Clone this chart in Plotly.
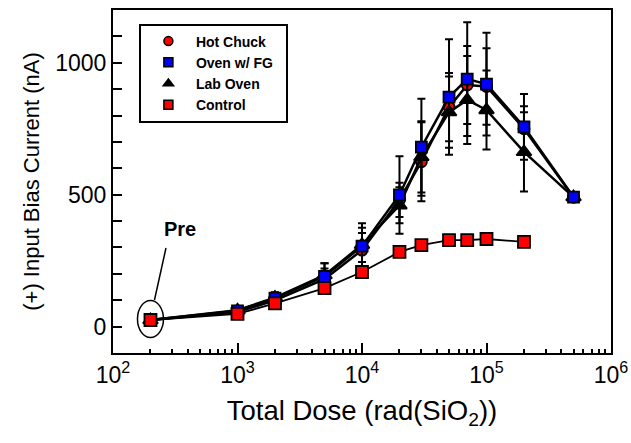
import math
import plotly.graph_objects as go

# ---------------- data ----------------
dose = [200, 1000, 2000, 5000, 10000, 20000, 30000, 50000, 70000, 100000, 200000, 500000]

hot_chuck = [25, 55, 100, 180, 290, 480, 625, 832, 916, 910, 750, 490]
hot_chuck_err = [5, 12, 18, 40, 65, 65, 150, 129, 148, 145, 85, 10]

oven_fg = [25, 60, 108, 190, 305, 499, 680, 870, 938, 919, 757, 491]
oven_fg_err = [5, 15, 20, 50, 87, 147, 184, 219, 216, 195, 125, 10]

lab_oven = [25, 62, 110, 195, 310, 460, 643, 813, 859, 821, 662, 491]
lab_oven_err = [5, 15, 20, 45, 65, 68, 135, 135, 167, 150, 150, 10]

control_dose = [200, 1000, 2000, 5000, 10000, 20000, 30000, 50000, 70000, 100000, 200000]
control = [25, 48, 88, 146, 207, 283, 309, 328, 328, 332, 321]

x_tick_vals = [100, 1000, 10000, 100000, 1000000]
x_tick_text = ["10<sup>2</sup>", "10<sup>3</sup>", "10<sup>4</sup>", "10<sup>5</sup>", "10<sup>6</sup>"]
x_minor_vals = [m * 10 ** e for e in range(2, 6) for m in range(2, 10)]
y_tick_vals = [0, 500, 1000]
y_minor_vals = [v for v in range(0, 1101, 100) if v not in y_tick_vals]

legend_names = ["Hot Chuck", "Oven w/ FG", "Lab Oven", "Control"]

FONT = "Liberation Sans, Arial, Helvetica, sans-serif"

fig = go.Figure()


def series(x, y, err, name, symbol, color, size, lw):
    fig.add_trace(go.Scatter(
        x=x, y=y, mode="lines+markers", name=name, showlegend=False,
        line=dict(color="black", width=lw),
        marker=dict(symbol=symbol, color=color, size=size,
                    line=dict(color="black", width=1.8)),
        error_y=dict(type="data", array=err if err is not None else [0] * len(y),
                     visible=err is not None,
                     color="black", thickness=2, width=4),
    ))


series(dose, hot_chuck, hot_chuck_err, "Hot Chuck", "circle", "#ff0000", 11, 2.5)
series(dose, lab_oven, lab_oven_err, "Lab Oven", "triangle-up", "black", 13, 2.5)
series(dose, oven_fg, oven_fg_err, "Oven w/ FG", "square", "#0000ff", 11, 2.5)
series(control_dose, control, None, "Control", "square", "#ff0000", 12, 1.8)

# legend-only entries (markers only, like the reference)
legend_styles = [("circle", "#ff0000"), ("square", "#0000ff"),
                 ("triangle-up", "black"), ("square", "#ff0000")]
for rank, (name, (symbol, color)) in enumerate(zip(legend_names, legend_styles), 1):
    label = name + ("&nbsp;&nbsp;" if name == "Oven w/ FG" else "")
    fig.add_trace(go.Scatter(
        x=[None], y=[None], mode="markers", name=label, legendrank=rank,
        marker=dict(symbol=symbol, color=color, size=9,
                    line=dict(color="black", width=1.5)),
    ))

# plot-area size in pixels (for callout geometry)
PLOT_W = 631 - 113 - 20
PLOT_H = 443 - 10 - 90
PX_PER_DECADE = PLOT_W / 4.0
PX_PER_NA = PLOT_H / 1300.0


def dx(px):
    return dose[0] * 10 ** (px / PX_PER_DECADE)


def dy(px):
    return control[0] + px / PX_PER_NA


fig.update_layout(
    width=631, height=443,
    margin=dict(l=113, r=20, t=10, b=90),
    plot_bgcolor="white", paper_bgcolor="white",
    font=dict(family=FONT, color="black"),
    xaxis=dict(
        type="log", range=[2, 6], automargin=False,
        tickmode="array", tickvals=x_tick_vals, ticktext=x_tick_text,
        ticks="inside", ticklen=10, tickwidth=2, tickcolor="black",
        minor=dict(tickmode="array", tickvals=x_minor_vals, ticks="inside",
                   ticklen=4, tickwidth=2, tickcolor="black", showgrid=False),
        showline=True, linecolor="black", linewidth=2, mirror=True,
        showgrid=False, zeroline=False,
        tickfont=dict(size=23, family=FONT),
        title=dict(text="Total Dose (rad(SiO<sub>2</sub>))",
                   font=dict(size=27.5, family=FONT), standoff=14),
    ),
    yaxis=dict(
        range=[-100, 1200], automargin=False,
        tickmode="array", tickvals=y_tick_vals,
        ticks="inside", ticklen=9, tickwidth=2, tickcolor="black",
        minor=dict(tickmode="array", tickvals=y_minor_vals, ticks="inside",
                   ticklen=9, tickwidth=2, tickcolor="black", showgrid=False),
        showline=True, linecolor="black", linewidth=2, mirror=True,
        showgrid=False, zeroline=False,
        tickfont=dict(size=23, family=FONT),
        title=dict(text="(+) Input Bias Current (nA)",
                   font=dict(size=22, family=FONT), standoff=10),
    ),
    legend=dict(
        x=0.052, y=0.9606, xanchor="left", yanchor="top",
        bgcolor="white", bordercolor="black", borderwidth=2,
        font=dict(size=14, family=FONT, weight="bold"),
        itemwidth=45, tracegroupgap=0,
    ),
    shapes=[
        dict(type="circle", xref="x", yref="y",
             x0=dx(-13), x1=dx(13), y0=dy(-17.5), y1=dy(19.5),
             line=dict(color="black", width=1.5)),
        dict(type="line", xref="x", yref="y",
             x0=dx(4), x1=dx(15.5), y0=dy(20), y1=dy(72),
             line=dict(color="black", width=1.5)),
    ],
    annotations=[
        dict(x=math.log10(dose[0]), y=control[0], xref="x", yref="y",
             text="<b>Pre</b>", showarrow=False, xshift=30, yshift=91,
             font=dict(size=20, family=FONT)),
    ],
)

fig.write_html("out.html", config=dict(displayModeBar=False),
               post_script="document.body.style.margin='0';")
